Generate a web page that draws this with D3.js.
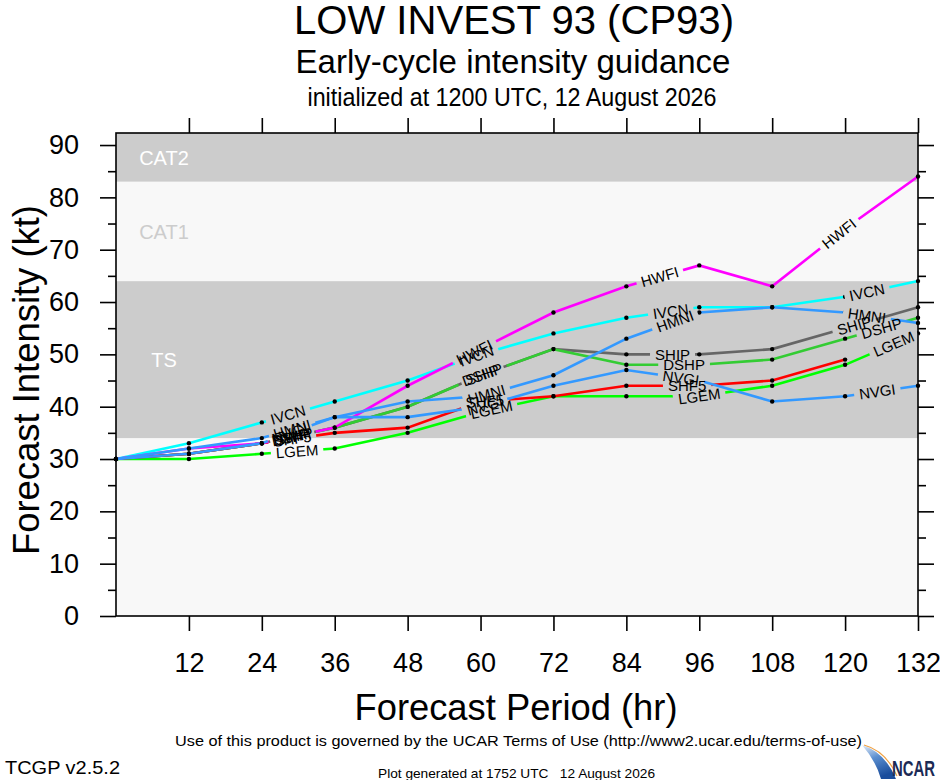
<!DOCTYPE html>
<html>
<head>
    <meta charset="utf-8">
    <title>LOW INVEST 93 (CP93) intensity guidance</title>
    <script src="https://d3js.org/d3.v7.min.js"></script>
    <style>
        body { margin: 0; background: #fff; }
        text { font-family: "Liberation Sans", Arial, Helvetica, sans-serif; }
    </style>
</head>
<body>
<div id="output"></div>

<script type="text/javascript">

    // forecast hours
    var hours = [0, 12, 24, 36, 48, 60, 72, 84, 96, 108, 120, 132];

    // intensity (kt) per model
    var hwfi = [30, 32, 33, 36, 44, 51, 58, 63, 67, 63, 74, 84];
    var ivcn = [30, 33, 37, 41, 45, 50, 54, 57, 59, 59, 61, 64];
    var ship = [30, 31, 33, 36, 40, 46, 51, 50, 50, 51, 55, 59];
    var dshp = [30, 31, 33, 36, 40, 46, 51, 48, 48, 49, 53, 57];
    var shf5 = [30, 31, 33, 35, 36, 41, 42, 44, 44, 45, 49];
    var lgem = [30, 30, 31, 32, 35, 39, 42, 42, 42, 44, 48, 54];
    var hmni = [30, 32, 34, 38, 41, 42, 46, 53, 58, 59, 58, 56];
    var nvgi = [30, 31, 33, 38, 38, 40, 44, 47, 45, 41, 42, 44];

    var modelNames = ["IVCN", "SHIP", "DSHP", "LGEM", "SHF5", "HWFI", "HMNI", "NVGI"];
    var modelValues = [ivcn, ship, dshp, lgem, shf5, hwfi, hmni, nvgi];
    var modelColors = ["#00ffff", "#666666", "#33cc33", "#00ff00", "#ff0000", "#ff00ff", "#3399ff", "#3399ff"];

    // hours along each line where its name is written
    var labelHours = [
        [28.3, 59.3, 91.3, 123.6],
        [29, 60.3, 91.6, 121.5],
        [29, 60.3, 93.5, 126],
        [29.8, 61.8, 96, 128],
        [29, 60.7, 94],
        [29, 59, 89.5, 119],
        [29, 61, 92, 123.6],
        [28.6, 60.7, 93, 125.3]
    ];

    // intensity bands
    var bandLow  = [0, 34, 64, 83];
    var bandHigh = [34, 64, 83, 92.3];
    var bandName = ["", "TS", "CAT1", "CAT2"];

    var xTicks = [12, 24, 36, 48, 60, 72, 84, 96, 108, 120, 132];
    var yTicks = [0, 10, 20, 30, 40, 50, 60, 70, 80, 90];
    var yMinor = [5, 15, 25, 35, 45, 55, 65, 75, 85];

    var w = 940, h = 780;
    var plotL = 116, plotR = 918, plotT = 133, plotB = 616;

    var x = d3.scaleLinear().domain([0, 132]).range([plotL, plotR]);
    var y = d3.scaleLinear().domain([0, 92.3]).range([plotB, plotT]);

    var svg = d3.select("#output").append("svg")
        .attr("width", w)
        .attr("height", h);

    // titles
    function txt(s, px, py, size, len, anchor) {
        return svg.append("text")
            .attr("x", px).attr("y", py)
            .attr("font-size", size)
            .attr("text-anchor", anchor || "middle")
            .attr("textLength", len)
            .attr("lengthAdjust", "spacingAndGlyphs")
            .style("white-space", "pre")
            .text(s);
    }
    txt("LOW INVEST 93 (CP93)", 514, 34, 41, 440);
    txt("Early-cycle intensity guidance", 513, 73, 33, 435);
    txt("initialized at 1200 UTC, 12 August 2026", 512, 106, 26, 409);

    // background bands
    var bands = svg.append("g");
    bands.selectAll("rect")
        .data(bandLow)
        .enter().append("rect")
        .attr("x", plotL)
        .attr("width", plotR - plotL)
        .attr("y", function(d, i) { return y(bandHigh[i]); })
        .attr("height", function(d, i) { return y(d) - y(bandHigh[i]); })
        .attr("fill", function(d, i) { return i % 2 ? "#cccccc" : "#f8f8f8"; });

    bands.selectAll("text")
        .data(bandLow)
        .enter().append("text")
        .attr("x", 164)
        .attr("y", function(d, i) { return y((d + bandHigh[i]) / 2); })
        .attr("dy", "0.36em")
        .attr("text-anchor", "middle")
        .attr("font-size", 20)
        .attr("fill", function(d, i) { return i == 2 ? "#cccccc" : "#ffffff"; })
        .text(function(d, i) { return bandName[i]; });

    // axes
    function clean(g) { g.select(".domain").remove(); g.selectAll("line").attr("stroke-width", 1.6); }

    svg.append("g").attr("transform", "translate(" + plotL + ",0)")
        .call(d3.axisLeft(y).tickValues(yTicks).tickSize(16).tickPadding(21))
        .call(clean)
        .selectAll("text").attr("font-size", 27).attr("font-family", "Liberation Sans, Arial, sans-serif");
    svg.append("g").attr("transform", "translate(" + plotL + ",0)")
        .call(d3.axisLeft(y).tickValues(yMinor).tickSize(8).tickFormat(""))
        .call(clean);
    svg.append("g").attr("transform", "translate(" + plotR + ",0)")
        .call(d3.axisRight(y).tickValues(yTicks).tickSize(16).tickFormat(""))
        .call(clean);
    svg.append("g").attr("transform", "translate(" + plotR + ",0)")
        .call(d3.axisRight(y).tickValues(yMinor).tickSize(8).tickFormat(""))
        .call(clean);
    svg.append("g").attr("transform", "translate(0," + plotB + ")")
        .call(d3.axisBottom(x).tickValues(xTicks).tickSize(15).tickPadding(22))
        .call(clean)
        .selectAll("text").attr("font-size", 27).attr("font-family", "Liberation Sans, Arial, sans-serif");
    svg.append("g").attr("transform", "translate(0," + plotT + ")")
        .call(d3.axisTop(x).tickValues(xTicks).tickSize(15).tickFormat(""))
        .call(clean);

    // axis titles
    txt("Forecast Period (hr)", 516, 720, 36, 323);
    svg.append("text")
        .attr("transform", "translate(39,380) rotate(-90)")
        .attr("text-anchor", "middle")
        .attr("font-size", 36)
        .attr("textLength", 350)
        .attr("lengthAdjust", "spacingAndGlyphs")
        .text("Forecast Intensity (kt)");

    // model lines
    var defs = svg.append("defs");
    var lineLayer = svg.append("g");
    var labelLayer = svg.append("g");

    var line = d3.line()
        .x(function(d, i) { return x(hours[i]); })
        .y(function(d) { return y(d); });

    modelValues.forEach(function(vals, k) {
        var mask = defs.append("mask")
            .attr("id", "gap" + k)
            .attr("maskUnits", "userSpaceOnUse")
            .attr("x", 0).attr("y", 0).attr("width", w).attr("height", h);
        mask.append("rect").attr("width", w).attr("height", h).attr("fill", "#fff");

        labelHours[k].forEach(function(hr) {
            var i = Math.min(Math.floor(hr / 12), vals.length - 2);
            var x1 = x(hours[i]), y1 = y(vals[i]);
            var x2 = x(hours[i + 1]), y2 = y(vals[i + 1]);
            var t = (x(hr) - x1) / (x2 - x1);
            var px = x1 + t * (x2 - x1), py = y1 + t * (y2 - y1);
            var ang = Math.atan2(y2 - y1, x2 - x1) * 180 / Math.PI;
            var tr = "translate(" + px + "," + py + ") rotate(" + ang + ")";

            var lab = labelLayer.append("text")
                .attr("transform", tr)
                .attr("text-anchor", "middle")
                .attr("dy", "0.36em")
                .attr("font-size", 15)
                .text(modelNames[k]);
            var tw = lab.node().getComputedTextLength();

            mask.append("rect")
                .attr("x", -tw / 2 - 5).attr("y", -8)
                .attr("width", tw + 10).attr("height", 16)
                .attr("transform", tr)
                .attr("fill", "#000");
        });

        var g = lineLayer.append("g").attr("mask", "url(#gap" + k + ")");
        g.append("path")
            .datum(vals)
            .attr("d", line)
            .attr("fill", "none")
            .attr("stroke", modelColors[k])
            .attr("stroke-width", 2.6);
        g.selectAll("circle")
            .data(vals)
            .enter().append("circle")
            .attr("cx", function(d, i) { return x(hours[i]); })
            .attr("cy", function(d) { return y(d); })
            .attr("r", 2.2)
            .attr("fill", "#000");
    });

    // frame
    svg.append("rect")
        .attr("x", plotL).attr("y", plotT)
        .attr("width", plotR - plotL).attr("height", plotB - plotT)
        .attr("fill", "none").attr("stroke", "#000").attr("stroke-width", 1.6);

    // footer
    txt("Use of this product is governed by the UCAR Terms of Use (http://www2.ucar.edu/terms-of-use)", 175, 746, 15, 687, "start");
    txt("TCGP v2.5.2", 5, 774, 19, 115, "start");
    txt("Plot generated at 1752 UTC   12 August 2026", 378, 778, 13, 277, "start");

    // NCAR logo
    var grad = defs.append("linearGradient").attr("id", "sw")
        .attr("x1", 0).attr("y1", 0).attr("x2", 0.4).attr("y2", 1);
    grad.append("stop").attr("offset", 0).attr("stop-color", "#e6eef8");
    grad.append("stop").attr("offset", 0.45).attr("stop-color", "#5b8fd0");
    grad.append("stop").attr("offset", 1).attr("stop-color", "#1a4d9c");
    svg.append("path")
        .attr("d", "M862,745 Q885,752 896,779 L881,779 Q876,761 862,745 Z")
        .attr("fill", "url(#sw)");
    svg.append("path")
        .attr("d", "M864,745 Q886,751 897,776")
        .attr("fill", "none").attr("stroke", "#f0a040").attr("stroke-width", 1.2);
    svg.append("text")
        .attr("x", 892).attr("y", 776)
        .attr("font-size", 22).attr("font-weight", "bold")
        .attr("fill", "#1b2a55")
        .attr("textLength", 43).attr("lengthAdjust", "spacingAndGlyphs")
        .text("NCAR");

</script>
</body>
</html>
